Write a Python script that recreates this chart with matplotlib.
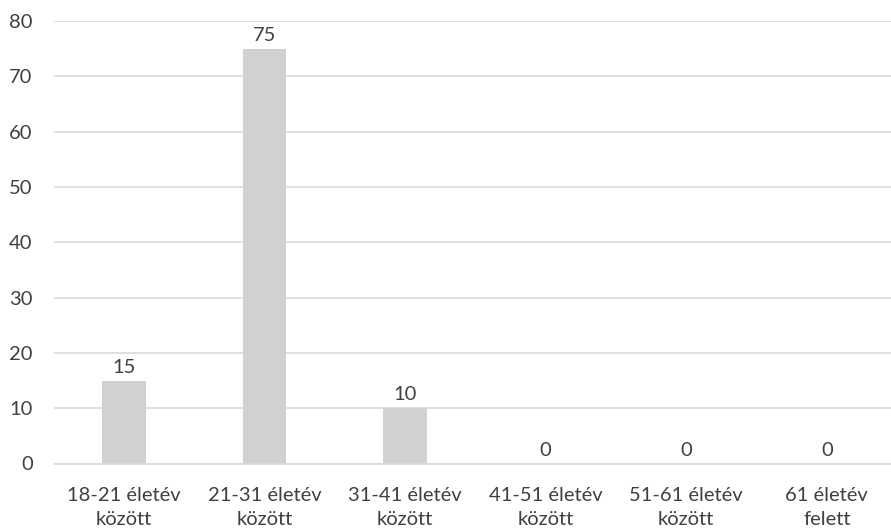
import matplotlib
matplotlib.use("Agg")
import matplotlib.pyplot as plt

categories = ["18-21 életév\nközött", "21-31 életév\nközött", "31-41 életév\nközött",
              "41-51 életév\nközött", "51-61 életév\nközött", "61 életév\nfelett"]
values = [15, 75, 10, 0, 0, 0]
yticks = [0, 10, 20, 30, 40, 50, 60, 70, 80]

plt.rcParams["font.family"] = ["Lato", "DejaVu Sans"]
text_color = "#404040"
fsize = 14.5

fig = plt.figure(figsize=(8.91, 5.32), dpi=100)
ax = fig.add_axes([53.5 / 891, (532 - 463.5) / 532, 843.6 / 891, 442.5 / 532])

x = range(len(categories))
ax.bar(x, values, width=0.31, color="#d0d1d3", zorder=2)
for xi, v in zip(x, values):
    ax.text(xi, v + 0.9, str(v), ha="center", va="bottom", fontsize=fsize, color=text_color)

ax.set_xlim(-0.5, len(categories) - 0.5)
ax.set_ylim(0, 80)
ax.set_yticks(yticks)
ax.set_xticks(list(x))
ax.set_xticklabels(categories, fontsize=fsize, color=text_color, linespacing=1.5)
ax.tick_params(axis="y", labelsize=fsize, labelcolor=text_color, length=0, pad=15)
ax.tick_params(axis="x", length=0, pad=17)

ax.grid(axis="y", color="#d9d9d9", linewidth=1.2, zorder=0)
for side in ["top", "right", "left"]:
    ax.spines[side].set_visible(False)
ax.spines["bottom"].set_color("#d9d9d9")
ax.spines["bottom"].set_linewidth(1.2)
ax.spines["bottom"].set_zorder(3)

fig.savefig("out.png", dpi=100)
